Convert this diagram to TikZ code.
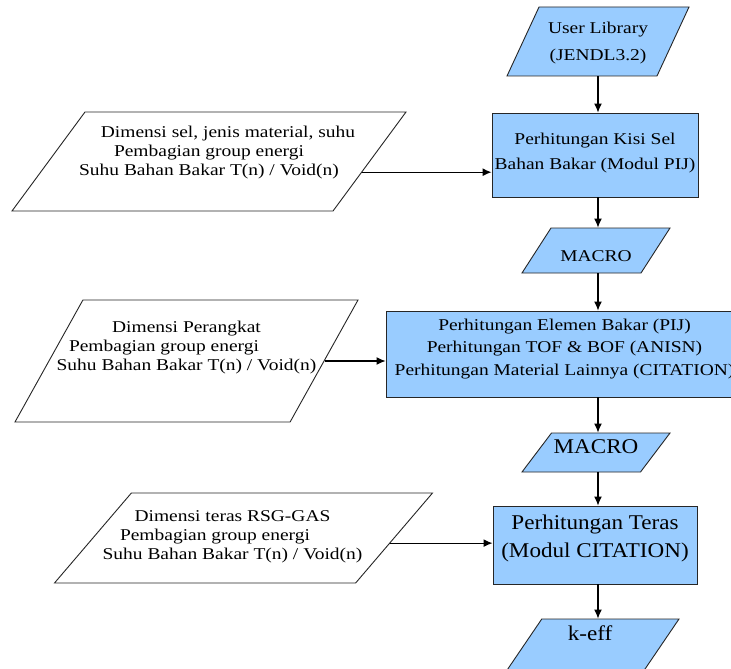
\documentclass[tikz,border=0pt]{standalone}
\usepackage{fontspec}
\setmainfont{Liberation Serif}
\newfontfamily\flowfont{Liberation Serif}[FakeStretch=1.18]
\newfontfamily\flowbig{Liberation Serif}[FakeStretch=1.1]
\usepackage{tikz}
\usetikzlibrary{shapes.geometric,arrows.meta}
\definecolor{flowblue}{RGB}{153,204,255}

\begin{document}
\begin{tikzpicture}[x=1pt,y=-1pt,
  every node/.style = {draw=black!85, line width=0.9pt, align=center,
    font=\flowfont\fontsize{16.5}{19}\selectfont},
  io/.style = {trapezium, trapezium stretches body, inner sep=0pt},
  input/.style = {io, inner xsep=-50pt},
  proc/.style = {rectangle, fill=flowblue, inner sep=0pt},
  big/.style = {font=\flowbig\fontsize{21}{28}\selectfont},
  arr/.style = {draw, line width=1.2pt, -{Latex[length=9pt,width=8pt]}}
  ]
  \path[fill=white] (0,0) rectangle (731,669);
  \useasboundingbox (0,0) rectangle (731,669);
  \coordinate (col) at (598,0);

  % kolom kanan
  \node[io, fill=flowblue, trapezium left angle=65.1, trapezium right angle=114.9,
    minimum width=182pt, text height=54pt, text depth=15pt,
    font=\flowfont\fontsize{16.5}{27}\selectfont] (lib) at (598,41.5)
    {User Library\\(JENDL3.2)};
  \node[proc, minimum width=206pt, minimum height=84pt, text height=56pt, text depth=28pt,
    font=\flowfont\fontsize{16.5}{25}\selectfont] (box1) at (595,155)
    {Perhitungan Kisi Sel\\Bahan Bakar (Modul PIJ)};
  \node[io, fill=flowblue, trapezium left angle=57.2, trapezium right angle=122.8,
    minimum width=148pt, text height=33pt, text depth=12pt]
    (mac1) at (596,250.5) {MACRO};
  \node[proc, minimum width=357pt, minimum height=86pt, text height=64pt, text depth=22pt,
    font=\flowfont\fontsize{16.5}{22.5}\selectfont] (box2) at (564.5,354)
    {Perhitungan Elemen Bakar (PIJ)\\Perhitungan TOF \& BOF (ANISN)\\
     Perhitungan Material Lainnya (CITATION)};
  \node[io, big, fill=flowblue, trapezium left angle=52.9, trapezium right angle=127.1,
    minimum width=148pt, text height=20pt, text depth=19pt]
    (mac2) at (596,452.5) {MACRO};
  \node[proc, big, minimum width=204pt, minimum height=78pt, text height=51.5pt,
    text depth=26.5pt] (box3) at (595,545) {Perhitungan Teras\\(Modul CITATION)};
  \node[io, big, fill=flowblue, trapezium left angle=55.8, trapezium right angle=124.2,
    minimum width=178pt, text height=21pt, text depth=39pt]
    (keff) at (590,649) {k-eff};

  % data masukan
  \node[input, trapezium left angle=53.6, trapezium right angle=126.4,
    minimum width=394pt, text height=63.5pt, text depth=35.5pt] (in1) at (209,161.5)
    {\makebox[38pt]{}Dimensi sel, jenis material, suhu\\Pembagian group energi\\
     Suhu Bahan Bakar T(n) / Void(n)};
  \node[input, trapezium left angle=60.9, trapezium right angle=119.1,
    minimum width=343pt, text height=70.5pt, text depth=51.5pt] (in2) at (186.5,361)
    {Dimensi Perangkat\\Pembagian group energi\makebox[45pt]{}\\
     Suhu Bahan Bakar T(n) / Void(n)};
  \node[input, trapezium left angle=49.5, trapezium right angle=130.5,
    minimum width=378pt, text height=66.5pt, text depth=23.5pt] (in3) at (243.5,538)
    {Dimensi teras RSG-GAS\makebox[22pt]{}\\Pembagian group energi\makebox[57pt]{}\\
     Suhu Bahan Bakar T(n) / Void(n)\makebox[22pt]{}};

  \draw[arr] (lib.south -| col) -- (box1.north -| col);
  \draw[arr] (box1.south -| col) -- (mac1.north -| col);
  \draw[arr] (mac1.south -| col) -- (box2.north -| col);
  \draw[arr] (box2.south -| col) -- (mac2.north -| col);
  \draw[arr] (mac2.south -| col) -- (box3.north -| col);
  \draw[arr] (box3.south -| col) -- (keff.north -| col);
  \draw[arr] (in1.-4) -- (in1.-4 -| box1.west);
  \draw[arr] (in2.east) -- (in2.east -| box2.west);
  \draw[arr] (in3.-2) -- (in3.-2 -| box3.west);
\end{tikzpicture}
\end{document}
